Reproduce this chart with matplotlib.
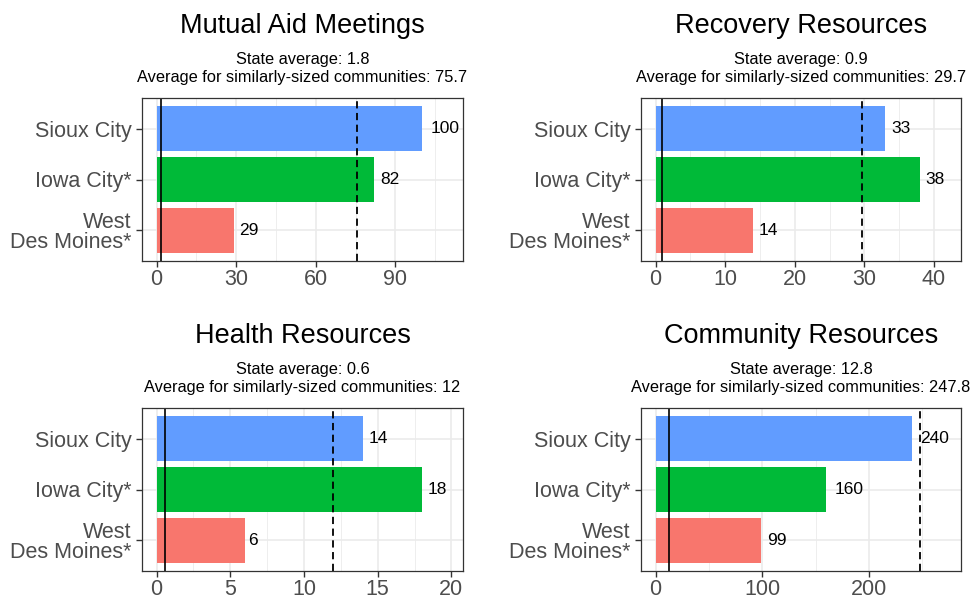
import matplotlib
matplotlib.use("Agg")
import matplotlib.pyplot as plt
from matplotlib.ticker import MultipleLocator

plt.rcParams['font.family'] = ['Liberation Sans', 'DejaVu Sans']

# data (bottom to top order on the y axis)
cities = ["West\nDes Moines*", "Iowa City*", "Sioux City"]
colors = ["#F8766D", "#00BA38", "#619CFF"]
titles = ["Mutual Aid Meetings", "Recovery Resources", "Health Resources", "Community Resources"]
mutual_aid = [29, 82, 100]
recovery = [14, 38, 33]
health = [6, 18, 14]
community = [99, 160, 240]
state_avg = [1.8, 0.9, 0.6, 12.8]
similar_avg = [75.7, 29.7, 12, 247.8]
similar_lbl = ["75.7", "29.7", "12", "247.8"]
major_step = [30, 10, 5, 100]
values = [mutual_aid, recovery, health, community]

W, H = 972, 599
fig = plt.figure(figsize=(W / 100, H / 100), dpi=100)

# panel boxes in pixels: left, top, right, bottom
boxes = [(142, 98, 463, 261), (641, 98, 961, 261),
         (142, 408, 463, 571), (641, 408, 961, 571)]

lab_size = 12.5
for i in range(4):
    l, t, r, b = boxes[i]
    ax = fig.add_axes([l / W, 1 - b / H, (r - l) / W, (b - t) / H])
    vals = values[i]
    top = max(max(vals), similar_avg[i]) * 1.1
    ax.set_xlim(-0.05 * top, top * 1.05)
    ax.set_ylim(0.4, 3.6)
    ax.set_axisbelow(True)
    ax.xaxis.set_major_locator(MultipleLocator(major_step[i]))
    ax.xaxis.set_minor_locator(MultipleLocator(major_step[i] / 2))
    ax.grid(True, which='major', color='#EBEBEB', lw=1.2)
    ax.grid(True, which='minor', axis='x', color='#EBEBEB', lw=0.6)
    ax.barh([1, 2, 3], vals, height=0.9, color=colors)
    ax.axvline(state_avg[i], color='black', lw=1.2)
    ax.axvline(similar_avg[i], color='black', lw=1.3, ls=(0, (4, 2.5)))
    for y, v in zip([1, 2, 3], vals):
        # hjust-like gap: 30% of the label width
        gap = 0.3 * len(str(v)) * 0.556 * lab_size
        ax.annotate(str(v), (v, y), xytext=(gap, 0), textcoords='offset points',
                    va='center', ha='left', fontsize=lab_size, color='black')
    ax.set_yticks([1, 2, 3])
    ax.set_yticklabels(cities, linespacing=0.95)
    ax.tick_params(axis='both', which='major', labelsize=15.5, colors='#333333',
                   labelcolor='#4D4D4D', length=4, width=1)
    ax.tick_params(axis='x', which='minor', length=0)
    ax.tick_params(axis='x', pad=2)
    for s in ax.spines.values():
        s.set_color('#333333')
        s.set_linewidth(0.9)
    cx = (l + r) / 2 / W
    fig.text(cx, 1 - (t - 65) / H, titles[i], ha='center', va='baseline', fontsize=19.5)
    fig.text(cx, 1 - (t - 34) / H, "State average: " + str(state_avg[i]),
             ha='center', va='baseline', fontsize=11.8)
    fig.text(cx, 1 - (t - 16) / H,
             "Average for similarly-sized communities: " + similar_lbl[i],
             ha='center', va='baseline', fontsize=11.8)

fig.savefig("out.png", dpi=100, facecolor='white')
